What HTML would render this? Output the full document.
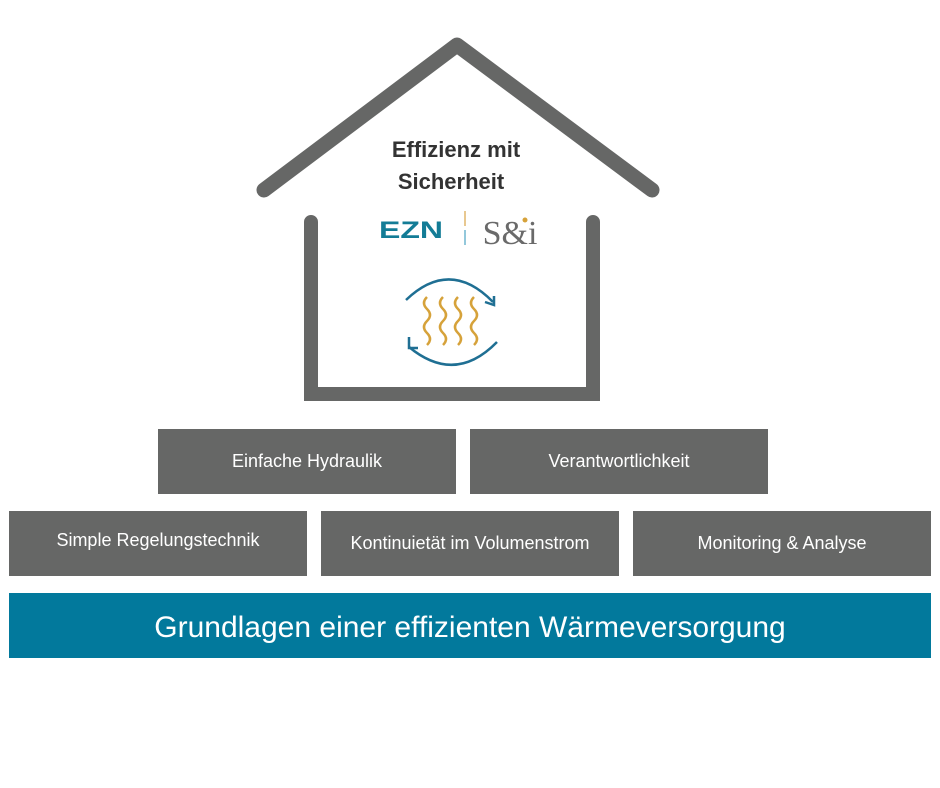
<!DOCTYPE html>
<html><head><meta charset="utf-8"><style>
body{margin:0;width:940px;height:788px;background:#fff;position:relative;font-family:"Liberation Sans",sans-serif;overflow:hidden}
.b{position:absolute;background:#666766;color:#fff;font-size:18px;display:flex;align-items:center;justify-content:center;height:65px;width:298px}
</style></head><body>
<svg width="940" height="788" style="position:absolute;left:0;top:0">
<polyline points="264,190 457,45 652,190" fill="none" stroke="#666766" stroke-width="15" stroke-linecap="round" stroke-linejoin="round"/>
<polyline points="311,222 311,394 593,394 593,222" fill="none" stroke="#666766" stroke-width="14" stroke-linecap="round" stroke-linejoin="miter"/>
<text x="456" y="157" text-anchor="middle" font-family="Liberation Sans" font-weight="bold" font-size="22" fill="#333">Effizienz mit</text>
<text x="451" y="189" text-anchor="middle" font-family="Liberation Sans" font-weight="bold" font-size="22" fill="#333">Sicherheit</text>
<text x="411" y="238" text-anchor="middle" font-family="Liberation Sans" font-weight="bold" font-size="24" fill="#137c96" textLength="64" lengthAdjust="spacingAndGlyphs">EZN</text>
<line x1="465" y1="211" x2="465" y2="226" stroke="#e0b66a" stroke-width="1.5"/>
<line x1="465" y1="230" x2="465" y2="245" stroke="#6fb6cf" stroke-width="1.5"/>
<text x="510" y="244" text-anchor="middle" font-family="Liberation Serif" font-size="34" fill="#6a6a6a">S&amp;i</text>
<circle cx="525" cy="220" r="2.5" fill="#d6a23a"/>
<g fill="none" stroke="#d6a23a" stroke-width="2.5">
<path d="M427,297 q-6,6 0,12 q6,6 0,12 q-6,6 0,12 q6,6 0,12"/>
<path d="M443,297 q-6,6 0,12 q6,6 0,12 q-6,6 0,12 q6,6 0,12"/>
<path d="M458,297 q-6,6 0,12 q6,6 0,12 q-6,6 0,12 q6,6 0,12"/>
<path d="M474,297 q-6,6 0,12 q6,6 0,12 q-6,6 0,12 q6,6 0,12"/>
</g>
<g fill="none" stroke="#1f6f93" stroke-width="2.5">
<path d="M406,300 Q450,258 493,302"/>
<path d="M485,302 L494,305 L494,296"/>
<path d="M497,342 Q455,385 409,347"/>
<path d="M409,337 L409,348 L418,348"/>
</g>
</svg>
<div class="b" style="left:158px;top:429px">Einfache Hydraulik</div>
<div class="b" style="left:470px;top:429px">Verantwortlichkeit</div>
<div class="b" style="left:9px;top:511px;padding-bottom:6px;box-sizing:border-box">Simple Regelungstechnik</div>
<div class="b" style="left:321px;top:511px">Kontinuietät im Volumenstrom</div>
<div class="b" style="left:633px;top:511px">Monitoring &amp; Analyse</div>
<div class="b" style="left:9px;top:593px;width:922px;background:#02799c;font-size:30px;padding-top:4px;box-sizing:border-box">Grundlagen einer effizienten Wärmeversorgung</div>
</body></html>
